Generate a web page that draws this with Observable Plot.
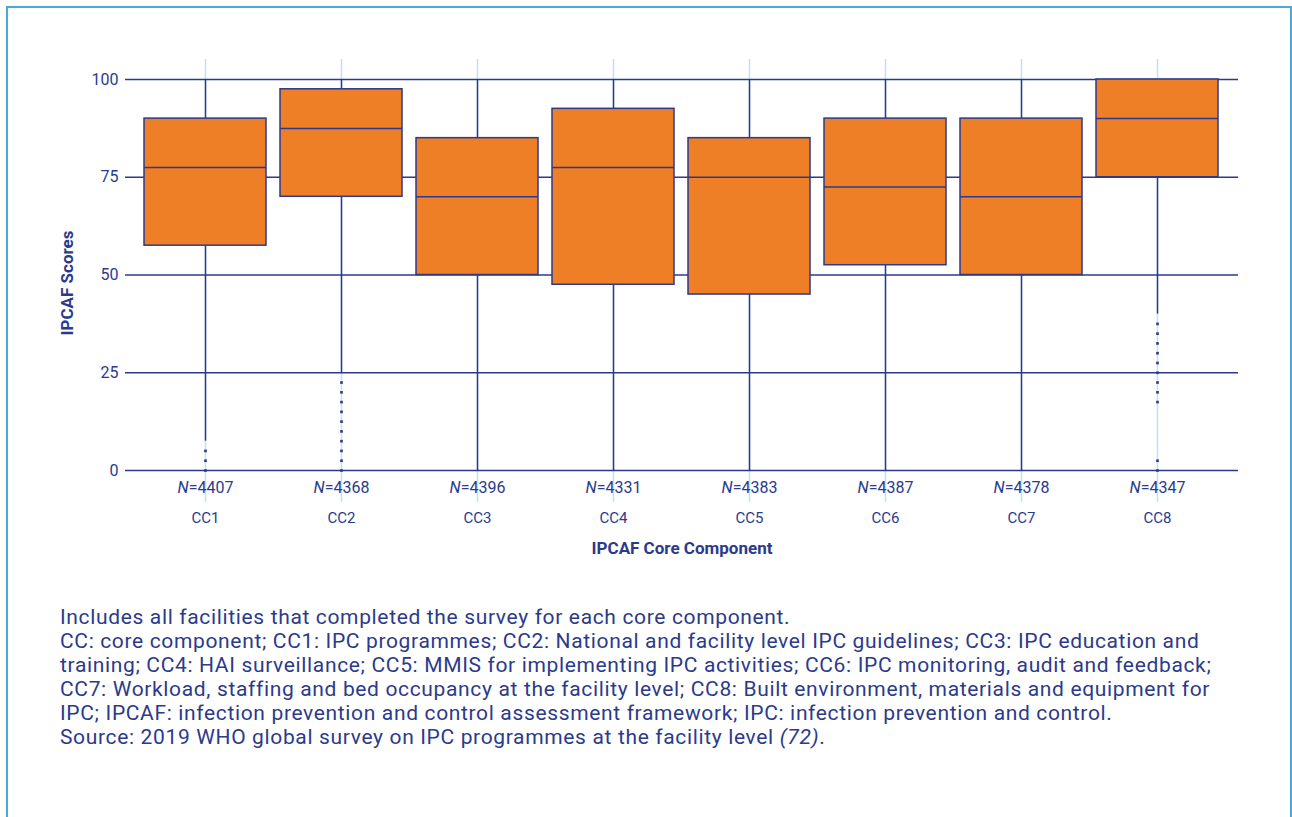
<!DOCTYPE html>
<html>
<head>
<meta charset="utf-8">
<script src="https://cdn.jsdelivr.net/npm/d3@7"></script>
<script src="https://cdn.jsdelivr.net/npm/@observablehq/plot@0.6"></script>
<style>
  html, body { margin: 0; padding: 0; background: #fff; }
  body { width: 1292px; height: 817px; position: relative; overflow: hidden; font-family: Roboto, "Noto Sans", sans-serif; color: #2b3a8c; }
  #frame { position: absolute; left: 6px; top: 6px; width: 1286px; height: 840px; border: 2px solid #4aa9d6; box-sizing: border-box; }
  #chart { position: absolute; left: 0; top: 0; }
  #caption { position: absolute; left: 60px; top: 605px; font-size: 21px; letter-spacing: 0.65px; line-height: 24px; white-space: nowrap; color: #2b3a8c; }
</style>
</head>
<body>
<div id="frame"></div>
<div id="chart"></div>
<div id="caption"></div>
<script>
// ---- data ----
const categories = ["CC1", "CC2", "CC3", "CC4", "CC5", "CC6", "CC7", "CC8"];
const nCounts = [4407, 4368, 4396, 4331, 4383, 4387, 4378, 4347];
const q1 = [57.5, 70, 50, 47.5, 45, 52.5, 50, 75];
const median = [77.5, 87.5, 70, 77.5, 75, 72.5, 70, 90];
const q3 = [90, 97.5, 85, 92.5, 85, 90, 90, 100];
const whiskerLow = [7.5, 25, 0, 0, 0, 0, 0, 40];
const whiskerHigh = [100, 100, 100, 100, 100, 100, 100, 100];
const outliersCC1 = [5, 2.5, 0];
const outliersCC2 = [22.5, 20, 17.5, 15, 12.5, 10, 7.5, 5, 2.5, 0];
const outliersCC8 = [37.5, 35, 32.5, 30, 27.5, 25, 22.5, 20, 17.5, 2.5, 0];
const yTicks = [0, 25, 50, 75, 100];
const yLabel = "IPCAF Scores";
const xLabel = "IPCAF Core Component";
const captionLines = [
  "Includes all facilities that completed the survey for each core component.",
  "CC: core component; CC1: IPC programmes; CC2: National and facility level IPC guidelines; CC3: IPC education and",
  "training; CC4: HAI surveillance; CC5: MMIS for implementing IPC activities; CC6: IPC monitoring, audit and feedback;",
  "CC7: Workload, staffing and bed occupancy at the facility level; CC8: Built environment, materials and equipment for",
  "IPC; IPCAF: infection prevention and control assessment framework; IPC: infection prevention and control.",
  "Source: 2019 WHO global survey on IPC programmes at the facility level <i>(72)</i>."
];

// ---- build tables ----
const boxes = categories.map((c, i) => ({
  cat: c, n: nCounts[i], q1: q1[i], med: median[i], q3: q3[i], lo: whiskerLow[i], hi: whiskerHigh[i]
}));
const outliers = [
  ...outliersCC1.map(v => ({cat: "CC1", value: v})),
  ...outliersCC2.map(v => ({cat: "CC2", value: v})),
  ...outliersCC8.map(v => ({cat: "CC8", value: v}))
];
const nByCat = Object.fromEntries(boxes.map(d => [d.cat, d.n]));

const navy = "#2b3a8c";
const orange = "#ee7f27";
const lightBlue = "#c6e1ed";

const chart = Plot.plot({
  width: 1292,
  height: 570,
  marginTop: 79,
  marginBottom: 100,
  marginLeft: 125,
  marginRight: 54,
  style: {fontFamily: "Roboto, 'Noto Sans', sans-serif", color: navy, background: "transparent"},
  x: {domain: categories, paddingInner: 0.1, paddingOuter: 0.14},
  y: {domain: [0, 100]},
  marks: [
    Plot.gridX({stroke: lightBlue, strokeOpacity: 1, strokeWidth: 1.5, insetTop: -20, insetBottom: -32}),
    Plot.gridY({ticks: yTicks, stroke: navy, strokeOpacity: 1, strokeWidth: 1.5}),
    Plot.ruleX(boxes, {x: "cat", y1: "q3", y2: "hi", stroke: navy, strokeWidth: 1.5}),
    Plot.ruleX(boxes, {x: "cat", y1: "q1", y2: "lo", stroke: navy, strokeWidth: 1.5}),
    Plot.barY(boxes, {x: "cat", y1: "q1", y2: "q3", fill: orange, stroke: navy, strokeWidth: 1.5}),
    Plot.tickY(boxes, {x: "cat", y: "med", stroke: navy, strokeWidth: 1.5}),
    Plot.dot(outliers, {x: "cat", y: "value", symbol: "square", r: 1.5, fill: navy, stroke: null}),
    Plot.axisY({ticks: yTicks, tickSize: 0, tickPadding: 7, fontSize: 16, label: null}),
    Plot.axisX({tickSize: 0, tickPadding: 11, fontSize: 16, label: null, tickFormat: d => "N=" + nByCat[d]}),
    Plot.axisX({tickSize: 0, tickPadding: 42, fontSize: 15, label: null}),
    Plot.text([xLabel], {frameAnchor: "bottom", dy: 78, text: d => d, fontSize: 17, fontWeight: "bold", fill: navy, lineAnchor: "middle", textAnchor: "middle"}),
    Plot.text([yLabel], {frameAnchor: "left", dx: -58, dy: 8, rotate: -90, text: d => d, fontSize: 17, fontWeight: "bold", fill: navy, lineAnchor: "middle", textAnchor: "middle"})
  ]
});

// italic "N" in sample-size labels
chart.querySelectorAll("text").forEach(t => {
  const s = t.textContent;
  if (/^N=\d+$/.test(s)) {
    t.innerHTML = '<tspan font-style="italic">N</tspan>' + s.slice(1);
  }
});

document.getElementById("chart").appendChild(chart);
document.getElementById("caption").innerHTML = captionLines.map(l => `<div>${l}</div>`).join("");
</script>
</body>
</html>
